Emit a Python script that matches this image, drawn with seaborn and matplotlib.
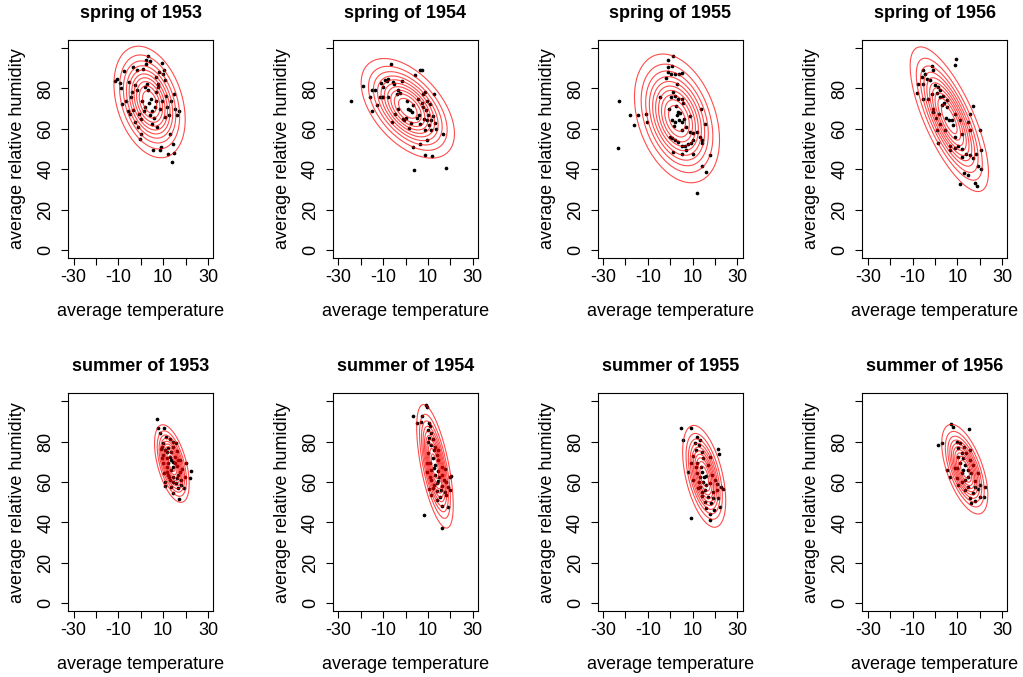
import numpy as np
import pandas as pd
import matplotlib
matplotlib.use("Agg")
import matplotlib.pyplot as plt
import seaborn as sns

# readings per season: average temperature and average relative humidity
spring_1953_temp = [-11.6, -10.5, -9.3, -9, -8.6, -7.6, -6.4, -5.6, -5.2, -4.6,
                    -4.1, -3.7, -3.4, -2.7, -1.9, -1.6, -1.2, -0.7, -0.4, -0.1,
                    0.3, 0.7, 1, 1.3, 1.8, 2.2, 2.5, 2.8, 3.1, 3.4,
                    3.7, 4, 4.3, 4.7, 5.2, 5.5, 5.8, 6.2, 6.7, 7,
                    7.3, 7.7, 8.1, 8.4, 8.7, 9, 9.3, 9.6, 9.9, 10.2,
                    10.7, 11, 11.4, 11.7, 12, 12.4, 12.9, 13.3, 13.9, 14.4,
                    14.8, 15, 15.4, 16.1, 17, 7.6, 5.2, 1.9, -2.5, -4.9, 7]
spring_1953_hum = [83.5, 84.8, 82.6, 80.3, 72.1, 88.6, 74, 69, 83, 75.7,
                   78, 69.5, 90.5, 81.5, 88.9, 79, 61, 67.5, 55, 57.6,
                   65, 74, 89.7, 69, 70.8, 94, 92, 82.3, 79, 96.3,
                   72.8, 66.7, 93.8, 75, 69, 49.4, 65.5, 71, 85.6, 78,
                   61, 80.7, 88, 49.4, 70, 51, 92.8, 74, 87, 89,
                   84, 65.8, 76.5, 70.8, 47.4, 66.7, 57.6, 74, 43.6, 52.7,
                   48, 77.4, 70, 66.7, 69, 82.3, 62.5, 80.7, 63.4, 67.5, 74]

spring_1954_temp = [-24.4, -19.2, -15, -15.8, -15, -13.6, -12.8, -11.3, -10.6, -9.9,
                    -11, -10.2, -9.1, -8.4, -7.6, -6.6, -5.4, -5.1, -6.1, -4.7,
                    -3.9, -3.2, -2.4, -1.7, -1.3, -0.7, 0.2, 0.8, 1.3, 2,
                    1.7, 2.3, 2.7, 3.5, 3.8, 4.2, 5.7, 6.1, 6.4, 7.2,
                    6.7, 7.2, 7.6, 7.9, 8.2, 8.7, 8.7, 9.1, 9.4, 9.7,
                    10.1, 10.6, 10.9, 11.2, 11.6, 12, 12.3, 12.6, 13.1, 13.6,
                    8.7, 6.7, 9.4, 16.8, 18, 5, 3.2, -3.2, -7.6]
spring_1954_hum = [73.7, 81, 68.6, 76, 79.3, 79.3, 71.6, 75.7, 75.7, 75.7,
                   82.6, 80.7, 84.3, 83.6, 84.8, 91.9, 83.1, 82, 63.4, 67.5,
                   77.4, 79, 77.7, 83.6, 65, 64.2, 65.5, 73.7, 70, 69.1,
                   60.6, 62.9, 68.3, 51, 39.5, 86.9, 74.9, 66.7, 88.9, 89.2,
                   62.6, 72.8, 77.4, 70.8, 65, 78.2, 59.3, 69.1, 73.7, 64.2,
                   66.7, 61.7, 72.1, 59.6, 64.5, 46.4, 66.2, 77.4, 62.9, 60.1,
                   46.9, 52.7, 54.7, 57.3, 40.8, 65.5, 71.6, 70, 75.7]

spring_1955_temp = [-23.1, -23.5, -17.9, -14.5, -16.1, -10.9, -10.5, -4.5, 1.4, -0.8,
                    -1.1, 0.9, -0.8, 0.4, 2.1, 3.9, 5.1, -2, 2.9, 1.4,
                    0.4, 2.1, 3.3, 5.1, 5.8, -0.5, 2.5, 3.3, 0.9, 2.1,
                    3.9, 5.1, 6.3, 1.8, 5.4, 6.9, 8.8, 8.8, 10.3, 11.8,
                    13.7, 15.5, -0.1, 0.9, 2.1, 3.6, 5.1, 6.6, 8, 9.3,
                    10.3, 13.3, 14.3, 14, 1.4, 5.4, 10.3, 6.9, 17.7, 14,
                    16.2, 12.2, 2.9, 4.3]
spring_1955_hum = [73.7, 50.5, 66.8, 66.8, 61.9, 67.5, 63.5, 76, 96, 94.2,
                   90.5, 90.9, 88, 87.2, 87.2, 87.2, 87.6, 85.3, 82.3, 78.2,
                   75.7, 76.5, 74.9, 74.9, 72.8, 70, 71.1, 68.3, 64.5, 63.4,
                   64.5, 63.4, 65, 61.2, 59.6, 60.9, 66.2, 58.4, 57.9, 58.4,
                   70, 62.2, 56, 55.6, 54.7, 53.5, 51.4, 51.4, 52.7, 53,
                   54.3, 56, 53, 54.7, 48.6, 47.7, 47.7, 49.4, 46.9, 41.5,
                   38.5, 28.3, 66.8, 67.8]

spring_1956_temp = [9.4, 9.1, -5.1, -4.4, -1.4, -0.7, -5.9, -3.7, -2.2, -7.4,
                    -5.1, 0, 1.5, 2.5, 0.8, -1.4, -8.2, -5.5, -2.9, 2.3,
                    4, 3, 5.2, -1, 2, 0.5, 5, 6.4, 7.5, 11.2,
                    8.2, 2.3, 4.5, 0.8, 17.1, 15.6, 14.9, 15.6, 20, 11.9,
                    8.9, 1.5, 6.7, 8.9, 10.4, 11.9, 6.7, 14.1, 15.6, 18.3,
                    20.8, 11.9, 17.1, 19.3, 20.8, 12.9, 14.9, 11.2, 17.8, 18.8,
                    5.2, 3.5, -0.7, 8.9]
spring_1956_hum = [94.7, 91.4, 88.9, 87.2, 90.9, 89.2, 85.9, 84.8, 84, 82,
                   82.3, 81.5, 80.7, 79.3, 77.7, 77.4, 77.7, 74.9, 74.9, 75.7,
                   72.8, 71.6, 70.8, 68.3, 67.5, 65.5, 65.5, 64.2, 64.5, 64.2,
                   61.7, 62.6, 59.6, 59.3, 71.1, 67.5, 63.4, 59.3, 59.3, 57.6,
                   56, 53, 51.4, 50.7, 51.4, 50.2, 49.4, 47.7, 46.9, 47.7,
                   49.4, 46.1, 45.3, 41.5, 40.3, 37.9, 37, 32.6, 33.3, 31.6,
                   74.4, 76.5, 70, 67.2]

summer_1953_temp = [7.1, 7.8, 10.3, 8.5, 11.2, 13, 14.5, 15.6, 9.3, 10.8,
                    12.3, 13.7, 10, 11.5, 13.3, 15.2, 17.4, 20.4, 9.7, 11.5,
                    14.2, 16.2, 18.6, 22.6, 10.3, 12.3, 14.5, 16.7, 19.7, 22.1,
                    10.8, 13, 15.6, 18.1, 10.8, 13.3, 16.7, 19.1, 14.3, 17.2,
                    8.9, 14.5, 12.3, 15.2, 13.7, 17.4, 11.5, 13, 16, 14.5,
                    18.1, 10, 16, 11.5, 16.7, 14.2, 12.8, 9.3]
summer_1953_hum = [91.1, 86.6, 86.6, 84.2, 82.2, 81.2, 80, 79.2, 77.6, 75.9,
                   76.7, 75.1, 73.4, 71.8, 71, 72.6, 71, 69.3, 69.3, 67.7,
                   67.3, 68, 66.3, 65.7, 64.4, 63.5, 62.7, 63.5, 62.4, 61.9,
                   60.2, 61, 59.4, 61, 58.1, 57.4, 56.9, 56.9, 54.8, 51.5,
                   76.2, 77.6, 69.3, 69.3, 66, 65.2, 65.2, 72.6, 75.6, 60.2,
                   58.6, 79.2, 61.9, 75.1, 71, 70.1, 62.7, 71.8]

summer_1954_temp = [9, 9.4, 3.5, 7.2, 5, 6.9, 10.4, 10.9, 9.9, 11.3,
                    10.4, 12.4, 11.6, 13.4, 12.8, 10.1, 13.9, 12.4, 14.6, 10.9,
                    13.1, 16.1, 11.6, 14.6, 17.6, 9.4, 13.1, 16.1, 19.8, 11.3,
                    14.6, 18.3, 12.8, 16.1, 19, 10.4, 13.9, 17.6, 19.8, 11.6,
                    15.3, 18.3, 13.9, 16.4, 19, 8.4, 16.4, 10.1, 12.8, 14.9,
                    10.9, 17.3, 12.4, 15.8, 9.4, 14.6, 13.9, 20.5]
summer_1954_hum = [98.2, 97, 92.7, 92.7, 89.4, 89.9, 89.4, 87.8, 85.8, 84.2,
                   81.7, 81.2, 78.4, 77.6, 75.9, 74.3, 73.4, 71.8, 71, 69.3,
                   68.5, 67.7, 66, 65.7, 66.3, 65.2, 63.5, 63.5, 62.7, 61.1,
                   60.7, 60.2, 58.6, 58.1, 57.4, 56.4, 55.8, 55.3, 56.1, 53.6,
                   52.8, 53.6, 51.2, 48.2, 47.9, 43.7, 37.5, 80, 66.8, 62.7,
                   62.7, 61.1, 57.1, 56.1, 69.3, 75.9, 59.4, 63.1]

summer_1955_temp = [4.7, 9.5, 5.5, 12.1, 13.3, 11, 12.9, 11.7, 14, 21.4,
                    21.8, 10.3, 14.7, 17.7, 12.1, 13.9, 16.9, 8.1, 11.8, 13.3,
                    16.2, 18.9, 10.3, 14.7, 17.7, 20.7, 22.9, 23.6, 12.5, 15.5,
                    19.2, 14, 17, 21.4, 15.5, 18.4, 16.2, 19.5, 22.1, 17.7,
                    9.1, 17.7, 13.5, 11.5, 14.4, 9.5, 16.2, 12.9, 19.9, 15,
                    14.4, 19.2, 20.7]
summer_1955_hum = [86.6, 86.6, 80.9, 82.2, 80.9, 79.2, 78.2, 75.9, 75.1, 76.2,
                   73.9, 73.1, 71.8, 72.6, 69.3, 67.7, 68.5, 65.2, 64.4, 62.7,
                   63, 63.5, 61.1, 60.2, 59.4, 59.1, 57.8, 56.4, 56.9, 56.1,
                   55.3, 53.1, 52.5, 52, 50.3, 49.5, 47, 46.2, 47.9, 44.2,
                   42.1, 41.3, 57.8, 67.3, 65.2, 69.3, 58.6, 60.2, 61.2, 62.7,
                   55.3, 52, 56.1]

summer_1956_temp = [7.2, 8.2, 15.2, 1.2, 3.3, 9.7, 11.2, 10.4, 13.1, 11.9,
                    14.1, 12.6, 15.6, 11.2, 13.4, 17.1, 9.7, 14.6, 5.2, 11.9,
                    16.3, 19.3, 6.7, 9.7, 13.4, 17.8, 22.3, 10.4, 14.6, 19.3,
                    17.1, 20.1, 22, 15.6, 17.8, 16.3, 8.9, 14.6, 12.6, 15.6,
                    10.4, 17.8, 13.4, 20.1, 11.9]
summer_1956_hum = [88.8, 87.5, 86.1, 78.4, 79.2, 80, 79.2, 76.7, 77.6, 74.3,
                   74.3, 71.8, 71, 69.3, 68.5, 68.5, 66.8, 66, 66, 64.4,
                   64.4, 64.4, 62.7, 61.9, 61.1, 60.7, 57.8, 58.6, 57.4, 56.4,
                   54.5, 52.8, 52.5, 52, 50.8, 49.5, 66.8, 62.7, 66, 75.9,
                   72.6, 57.8, 56.1, 58.4, 60.2]

titles = ["spring of 1953", "spring of 1954", "spring of 1955", "spring of 1956",
          "summer of 1953", "summer of 1954", "summer of 1955", "summer of 1956"]
temps = [spring_1953_temp, spring_1954_temp, spring_1955_temp, spring_1956_temp,
         summer_1953_temp, summer_1954_temp, summer_1955_temp, summer_1956_temp]
hums = [spring_1953_hum, spring_1954_hum, spring_1955_hum, spring_1956_hum,
        summer_1953_hum, summer_1954_hum, summer_1955_hum, summer_1956_hum]

sns.set_style("ticks")
plt.rcParams["font.family"] = ["Liberation Sans", "DejaVu Sans"]
plt.rcParams["text.color"] = "black"
plt.rcParams["axes.labelcolor"] = "black"

W, H = 1023, 677
fig = plt.figure(figsize=(W / 100, H / 100), dpi=100)

# panel boxes in pixels (R-like mfrow 2x4 layout)
lefts = [68.3, 333.0, 597.7, 862.4]
tops = [40.0, 393.3]
box_w, box_h = 145, 218

gx, gy = np.meshgrid(np.linspace(-32.4, 32.4, 400), np.linspace(-4, 104, 400))

for i, (title, temp, hum) in enumerate(zip(titles, temps, hums)):
    row, col = divmod(i, 4)
    ax = fig.add_axes([lefts[col] / W, 1 - (tops[row] + box_h) / H, box_w / W, box_h / H])
    df = pd.DataFrame({"temp": temp, "hum": hum})

    sns.scatterplot(data=df, x="temp", y="hum", ax=ax, color="black", s=7,
                    linewidth=0, zorder=3)

    # fitted bivariate normal density -> 10 contour lines drawn over the points
    mu = df.mean().values
    cov = np.cov(df["temp"], df["hum"])
    inv = np.linalg.inv(cov)
    d = np.stack([gx - mu[0], gy - mu[1]], axis=-1)
    m = np.einsum("...i,ij,...j->...", d, inv, d)
    z = np.exp(-0.5 * m) / (2 * np.pi * np.sqrt(np.linalg.det(cov)))
    levels = np.linspace(0, z.max(), 12)[1:-1]
    ax.contour(gx, gy, z, levels=levels, colors="red", linewidths=0.8,
               alpha=0.7, zorder=4)

    ax.set_xlim(-32.4, 32.4)
    ax.set_ylim(-4, 104)
    ax.set_xticks(range(-30, 31, 10))
    ax.set_xticklabels(["-30", "", "-10", "", "10", "", "30"])
    ax.set_yticks(range(0, 101, 20))
    ax.set_yticklabels(["0", "20", "40", "60", "80", ""], rotation=90, va="center")
    ax.tick_params(direction="out", length=5, width=0.8, labelsize=13, colors="black")
    ax.tick_params(axis="x", pad=3)
    ax.tick_params(axis="y", pad=5)
    for s in ax.spines.values():
        s.set_visible(True)
        s.set_linewidth(0.8)
        s.set_color("black")

    ax.set_title(title, fontsize=13, fontweight="bold", pad=16)
    ax.set_xlabel("average temperature", fontsize=13, labelpad=12)
    ax.set_ylabel("average relative humidity", fontsize=13, labelpad=8)

fig.savefig("out.png", dpi=100)
